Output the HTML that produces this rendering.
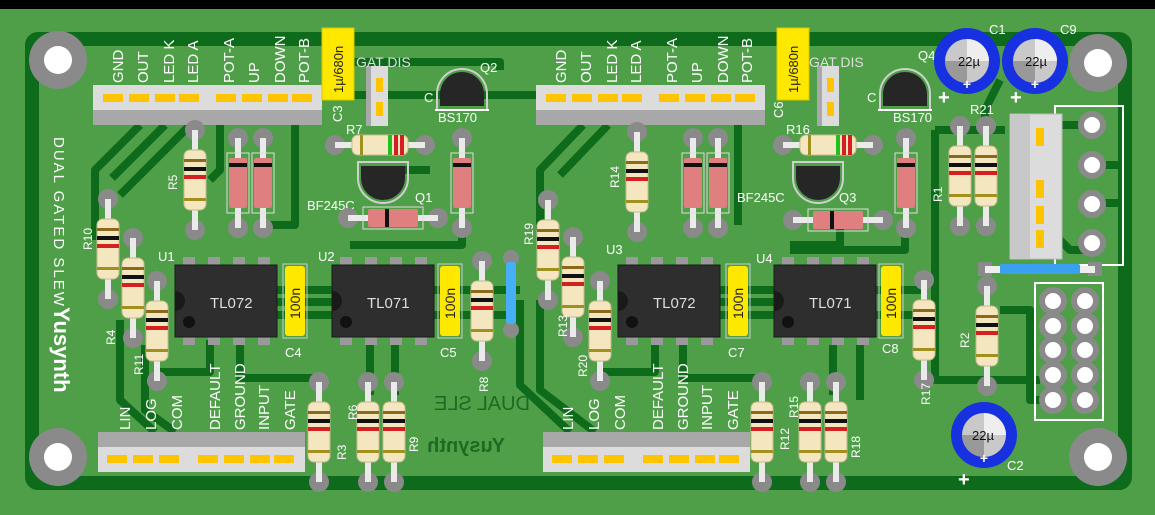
<!DOCTYPE html>
<html><head><meta charset="utf-8"><style>
html,body{margin:0;padding:0;background:#000;}
svg{display:block;}
text{font-family:"Liberation Sans",sans-serif;}
</style></head><body>
<svg width="1155" height="515" viewBox="0 0 1155 515" xmlns="http://www.w3.org/2000/svg">
<defs>
<g id="res">
 <circle cx="0" cy="-50" r="10" fill="#8a8a8a"/><circle cx="0" cy="50" r="10" fill="#8a8a8a"/>
 <rect x="-3" y="-50" width="6" height="100" fill="#eaeaea"/>
 <rect x="-11" y="-30" width="22" height="60" rx="6" fill="#f4e7c0" stroke="#c9b88e"/>
 <rect x="-11" y="-21" width="22" height="3" fill="#8a6a1a"/>
 <rect x="-11" y="-13" width="22" height="4" fill="#111"/>
 <rect x="-11" y="-5" width="22" height="4" fill="#d42020"/>
 <rect x="-11" y="18" width="22" height="3" fill="#a09020"/>
</g>
<g id="resh">
 <circle cx="-45" cy="0" r="10" fill="#8a8a8a"/><circle cx="45" cy="0" r="10" fill="#8a8a8a"/>
 <rect x="-45" y="-3" width="90" height="6" fill="#eaeaea"/>
 <rect x="-28" y="-10" width="56" height="20" rx="6" fill="#f4e7c0" stroke="#c9b88e"/>
 <rect x="-20" y="-10" width="3" height="20" fill="#a09020"/>
 <rect x="8" y="-10" width="4" height="20" fill="#20c020"/>
 <rect x="14" y="-10" width="4" height="20" fill="#d42020"/>
 <rect x="20" y="-10" width="4" height="20" fill="#d42020"/>
</g>
<g id="dv">
 <circle cx="0" cy="-45" r="10" fill="#8a8a8a"/><circle cx="0" cy="45" r="10" fill="#8a8a8a"/>
 <rect x="-3" y="-45" width="6" height="90" fill="#eaeaea"/>
 <rect x="-11" y="-30" width="22" height="60" fill="none" stroke="#ddd"/>
 <rect x="-9" y="-25" width="18" height="50" rx="2" fill="#e07f7f"/>
 <rect x="-9" y="-20" width="18" height="4" fill="#111"/>
</g>
<g id="dh">
 <circle cx="-45" cy="0" r="10" fill="#8a8a8a"/><circle cx="45" cy="0" r="10" fill="#8a8a8a"/>
 <rect x="-45" y="-3" width="90" height="6" fill="#eaeaea"/>
 <rect x="-30" y="-11" width="60" height="22" fill="none" stroke="#ddd"/>
 <rect x="-25" y="-9" width="50" height="18" rx="2" fill="#e07f7f"/>
 <rect x="-8" y="-9" width="4" height="18" fill="#111"/>
</g>
<g id="ic">
 <g fill="#9a9a9a">
 <rect x="8" y="-8" width="12" height="10"/><rect x="33" y="-8" width="12" height="10"/><rect x="58" y="-8" width="12" height="10"/><rect x="83" y="-8" width="12" height="10"/>
 <rect x="8" y="70" width="12" height="10"/><rect x="33" y="70" width="12" height="10"/><rect x="58" y="70" width="12" height="10"/><rect x="83" y="70" width="12" height="10"/>
 </g>
 <rect x="0" y="0" width="102" height="72" fill="#2e2e2e" stroke="#1a1a1a"/>
 <path d="M0 26 A10 10 0 0 1 0 46Z" fill="#1a1a1a"/>
 <circle cx="14" cy="57" r="6" fill="#111"/>
</g>
<g id="cap100">
 <rect x="0" y="0" width="24" height="74" fill="none" stroke="#ccc"/>
 <rect x="2" y="2" width="20" height="70" rx="3" fill="#ffe800"/>
 <text transform="translate(17,55) rotate(-90)" font-size="14" fill="#222">100n</text>
</g>
<g id="hdr8">
 <rect x="0" y="0" width="229" height="40" fill="#dcdcdc"/>
 <rect x="0" y="25" width="229" height="15" fill="#a8a8a8"/>
 <g fill="#ffc400"><rect x="10" y="9" width="20" height="8"/><rect x="36" y="9" width="20" height="8"/><rect x="62" y="9" width="20" height="8"/><rect x="86" y="9" width="20" height="8"/><rect x="123" y="9" width="20" height="8"/><rect x="149" y="9" width="20" height="8"/><rect x="175" y="9" width="20" height="8"/><rect x="199" y="9" width="20" height="8"/></g>
</g>
<g id="hdrb">
 <rect x="0" y="0" width="207" height="40" fill="#dcdcdc"/>
 <rect x="0" y="0" width="207" height="15" fill="#a8a8a8"/>
 <g fill="#ffc400"><rect x="9" y="23" width="20" height="8"/><rect x="35" y="23" width="20" height="8"/><rect x="61" y="23" width="20" height="8"/><rect x="100" y="23" width="20" height="8"/><rect x="126" y="23" width="20" height="8"/><rect x="152" y="23" width="20" height="8"/><rect x="176" y="23" width="20" height="8"/></g>
</g>
<g id="gat">
 <rect x="0" y="0" width="22" height="60" fill="#dcdcdc"/><rect x="0" y="0" width="5" height="60" fill="#a8a8a8"/>
 <rect x="10" y="12" width="7" height="14" fill="#ffc400"/><rect x="10" y="36" width="7" height="14" fill="#ffc400"/>
</g>
<g id="tdn">
 <path d="M-25 -2 A25 25 0 0 1 25 -2 V14 H-25Z" fill="none" stroke="#cfcfcf" stroke-width="2"/>
 <path d="M-22 -2 A22 22 0 0 1 22 -2 V10 H-22Z" fill="#262626"/>
 <path d="M-27 14 H27" stroke="#fff" stroke-width="2"/>
</g>
<g id="tq">
 <path d="M-25 2 A25 25 0 0 0 25 2 V-14 H-25Z" fill="none" stroke="#cfcfcf" stroke-width="2"/>
 <path d="M-22 2 A22 22 0 0 0 22 2 V-10 H-22Z" fill="#262626"/>
</g>
<g id="ec">
 <circle r="33" fill="#1730e0"/><circle r="22" fill="#c9c9c9"/><path d="M0 -22 A22 22 0 0 1 22 0 L0 0Z" fill="#eee"/><path d="M0 0 L-22 0 A22 22 0 0 0 0 22Z" fill="#999"/>
 <text x="0" y="28" font-size="14" fill="#fff" text-anchor="middle" font-weight="bold">+</text>
</g>
<g id="hole"><circle r="14" fill="#8a8a8a"/><circle r="8" fill="#fff"/></g>
<g id="mh"><circle r="29" fill="#8a8a8a"/><circle r="14" fill="#fff"/></g>
</defs>

<rect x="0" y="0" width="1155" height="515" fill="#4e9f48"/>
<rect x="0" y="0" width="1155" height="9" fill="#000"/>

<!-- traces -->
<g fill="none" stroke="#0f6b1c" stroke-width="8" stroke-linejoin="round">
 <rect x="32" y="39" width="1093" height="444" rx="6" stroke-width="14"/>
 <path d="M140 125 L95 170 V240"/><path d="M165 125 L112 178"/><path d="M190 125 L120 195"/>
 <path d="M220 125 V170 L210 180"/><path d="M295 125 V225 H265"/>
 <path d="M352 95 H540"/><path d="M352 62 H500 V70"/><path d="M400 170 H430"/>
 <path d="M120 320 V400 L155 432"/><path d="M145 345 V410 L175 432"/>
 <path d="M210 340 V372 H160"/><path d="M240 340 V378 H320"/>
 <path d="M277 290 H332 M277 302 H332 M277 315 H332"/>
 <path d="M432 290 H520 M432 315 H520"/><path d="M462 225 V245 H350"/>
 <path d="M395 345 V395 M370 345 V395"/>
 <path d="M583 125 L540 170 V230"/><path d="M608 125 L560 175"/><path d="M520 300 V385 L570 432"/>
 <path d="M540 300 V390 L595 432"/><path d="M655 340 V372 H600"/><path d="M683 340 V378 H760"/>
 <path d="M718 290 H775 M718 302 H775 M718 315 H775"/>
 <path d="M738 125 V225"/><path d="M840 225 V245 H790"/>
 <path d="M873 290 H925 M873 315 H925"/>
 <path d="M905 230 V250 H790"/><path d="M935 130 H1005 M935 130 V380 H1040"/>
 <path d="M1000 80 L985 110 V130"/><path d="M1060 125 H1092 M1060 240 L1070 250 H1092"/>
 <path d="M1092 165 H1125 M1092 203 H1125"/><path d="M1000 310 H1030 V400 H1053"/>
 <path d="M860 345 V400 M833 345 V395"/>
</g>

<!-- mounting holes -->
<use href="#mh" x="58" y="60"/><use href="#mh" x="58" y="457"/><use href="#mh" x="1098" y="63"/><use href="#mh" x="1098" y="457"/>

<!-- left texts -->
<text transform="translate(54,137) rotate(90)" font-size="15" fill="#fff" letter-spacing="2">DUAL  GATED  SLEW</text>
<text transform="translate(54,307) rotate(90)" font-size="22" fill="#fff" font-weight="bold" font-family="Liberation Serif,serif">Yusynth</text>

<!-- ======== LEFT HALF ======== -->
<g>
 <use href="#hdr8" x="93" y="85"/>
 <g font-size="15" fill="#fff">
  <text transform="translate(123,83) rotate(-90)">GND</text>
  <text transform="translate(148,83) rotate(-90)">OUT</text>
  <text transform="translate(174,83) rotate(-90)">LED K</text>
  <text transform="translate(198,83) rotate(-90)">LED A</text>
  <text transform="translate(234,83) rotate(-90)">POT-A</text>
  <text transform="translate(259,83) rotate(-90)">UP</text>
  <text transform="translate(285,83) rotate(-90)">DOWN</text>
  <text transform="translate(309,83) rotate(-90)">POT-B</text>
 </g>
 <rect x="322" y="28" width="32" height="72" fill="#ffe800" stroke="#d8c800"/>
 <text transform="translate(343,93) rotate(-90)" font-size="13" fill="#222">1µ/680n</text>
 <text transform="translate(342,122) rotate(-90)" font-size="13" fill="#fff">C3</text>
 <use href="#gat" x="366" y="66"/>
 <text x="356" y="67" font-size="14" fill="#ddd">GAT  DIS</text>
 <use href="#tdn" x="462" y="96"/>
 <text x="480" y="72" font-size="13" fill="#fff">Q2</text>
 <text x="438" y="122" font-size="13" fill="#fff">BS170</text>
 <text x="424" y="102" font-size="13" fill="#fff">C</text>
 <use href="#resh" x="380" y="145"/>
 <text x="346" y="134" font-size="13" fill="#fff">R7</text>
 <use href="#tq" x="383" y="176"/>
 <text x="415" y="202" font-size="13" fill="#fff">Q1</text>
 <text x="307" y="210" font-size="13" fill="#fff">BF245C</text>
 <use href="#dh" x="393" y="218"/>
 <use href="#dv" x="462" y="183"/>
 <use href="#res" x="195" y="180"/>
 <text transform="translate(177,190) rotate(-90)" font-size="12" fill="#fff">R5</text>
 <use href="#dv" x="238" y="183"/><use href="#dv" x="263" y="183"/>
 <use href="#res" x="108" y="249"/>
 <text transform="translate(92,250) rotate(-90)" font-size="12" fill="#fff">R10</text>
 <use href="#res" x="133" y="288"/>
 <text transform="translate(115,345) rotate(-90)" font-size="12" fill="#fff">R4</text>
 <use href="#res" x="157" y="331"/>
 <text transform="translate(143,375) rotate(-90)" font-size="12" fill="#fff">R11</text>
 <use href="#ic" x="175" y="265"/>
 <text x="210" y="308" font-size="15" fill="#ddd">TL072</text>
 <text x="158" y="261" font-size="13" fill="#fff">U1</text>
 <use href="#cap100" x="283" y="264"/>
 <text x="285" y="357" font-size="13" fill="#fff">C4</text>
 <use href="#ic" x="332" y="265"/>
 <text x="367" y="308" font-size="15" fill="#ddd">TL071</text>
 <text x="318" y="261" font-size="13" fill="#fff">U2</text>
 <use href="#cap100" x="438" y="264"/>
 <text x="440" y="357" font-size="13" fill="#fff">C5</text>
 <use href="#res" x="482" y="311"/>
 <text transform="translate(488,392) rotate(-90)" font-size="12" fill="#fff">R8</text>
 <use href="#hdrb" x="98" y="432"/>
 <g font-size="15" fill="#fff">
  <text transform="translate(130,430) rotate(-90)">LIN</text>
  <text transform="translate(156,430) rotate(-90)">LOG</text>
  <text transform="translate(182,430) rotate(-90)">COM</text>
  <text transform="translate(220,430) rotate(-90)">DEFAULT</text>
  <text transform="translate(245,430) rotate(-90)">GROUND</text>
  <text transform="translate(269,430) rotate(-90)">INPUT</text>
  <text transform="translate(295,430) rotate(-90)">GATE</text>
 </g>
 <use href="#res" x="319" y="432"/>
</g>
<text transform="translate(346,460) rotate(-90)" font-size="12" fill="#fff">R3</text>
<use href="#res" x="368" y="432"/><use href="#res" x="394" y="432"/>
<text transform="translate(357,420) rotate(-90)" font-size="12" fill="#fff">R6</text>
<text transform="translate(418,452) rotate(-90)" font-size="12" fill="#fff">R9</text>
<circle cx="511" cy="258" r="8" fill="#8a8a8a"/><circle cx="511" cy="330" r="8" fill="#8a8a8a"/>
<rect x="506" y="262" width="10" height="62" rx="3" fill="#48aef5"/>
<text transform="translate(530,410) scale(-1,1)" font-size="20" fill="#1f6a22">DUAL SLE</text>
<text transform="translate(505,452) scale(-1,1)" font-size="20" fill="#1f6a22" font-weight="bold" font-family="Liberation Serif,serif">Yusynth</text>

<!-- ======== RIGHT HALF ======== -->
<g transform="translate(443,0)">
 <use href="#hdr8" x="93" y="85"/>
 <g font-size="15" fill="#fff">
  <text transform="translate(123,83) rotate(-90)">GND</text>
  <text transform="translate(148,83) rotate(-90)">OUT</text>
  <text transform="translate(174,83) rotate(-90)">LED K</text>
  <text transform="translate(198,83) rotate(-90)">LED A</text>
  <text transform="translate(234,83) rotate(-90)">POT-A</text>
  <text transform="translate(259,83) rotate(-90)">UP</text>
  <text transform="translate(285,83) rotate(-90)">DOWN</text>
  <text transform="translate(309,83) rotate(-90)">POT-B</text>
 </g>
 <rect x="334" y="28" width="32" height="72" fill="#ffe800" stroke="#d8c800"/>
 <text transform="translate(355,93) rotate(-90)" font-size="13" fill="#222">1µ/680n</text>
 <text transform="translate(340,118) rotate(-90)" font-size="13" fill="#fff">C6</text>
 <use href="#gat" x="374" y="66"/>
 <text x="366" y="67" font-size="14" fill="#ddd">GAT  DIS</text>
 <use href="#tdn" x="462" y="96"/>
 <text x="475" y="60" font-size="13" fill="#fff">Q4</text>
 <text x="450" y="122" font-size="13" fill="#fff">BS170</text>
 <text x="424" y="102" font-size="13" fill="#fff">C</text>
 <use href="#resh" x="385" y="145"/>
 <text x="343" y="134" font-size="13" fill="#fff">R16</text>
 <use href="#tq" x="375" y="176"/>
 <text x="396" y="202" font-size="13" fill="#fff">Q3</text>
 <text x="294" y="202" font-size="13" fill="#fff">BF245C</text>
 <use href="#dh" x="395" y="220"/>
 <use href="#dv" x="463" y="183"/>
 <use href="#res" x="194" y="182"/>
 <text transform="translate(176,188) rotate(-90)" font-size="12" fill="#fff">R14</text>
 <use href="#dv" x="250" y="183"/><use href="#dv" x="275" y="183"/>
 <use href="#res" x="105" y="250"/>
 <text transform="translate(90,245) rotate(-90)" font-size="12" fill="#fff">R19</text>
 <use href="#res" x="130" y="287"/>
 <text transform="translate(124,337) rotate(-90)" font-size="12" fill="#fff">R13</text>
 <use href="#res" x="157" y="331"/>
 <text transform="translate(144,377) rotate(-90)" font-size="12" fill="#fff">R20</text>
 <use href="#ic" x="175" y="265"/>
 <text x="210" y="308" font-size="15" fill="#ddd">TL072</text>
 <text x="163" y="254" font-size="13" fill="#fff">U3</text>
 <use href="#cap100" x="283" y="264"/>
 <text x="285" y="357" font-size="13" fill="#fff">C7</text>
 <use href="#ic" x="331" y="265"/>
 <text x="366" y="308" font-size="15" fill="#ddd">TL071</text>
 <text x="313" y="263" font-size="13" fill="#fff">U4</text>
 <use href="#cap100" x="436" y="264"/>
 <text x="439" y="353" font-size="13" fill="#fff">C8</text>
 <use href="#res" x="481" y="330"/>
 <text transform="translate(487,405) rotate(-90)" font-size="12" fill="#fff">R17</text>
 <use href="#hdrb" x="100" y="432"/>
 <g font-size="15" fill="#fff">
  <text transform="translate(130,430) rotate(-90)">LIN</text>
  <text transform="translate(156,430) rotate(-90)">LOG</text>
  <text transform="translate(182,430) rotate(-90)">COM</text>
  <text transform="translate(220,430) rotate(-90)">DEFAULT</text>
  <text transform="translate(245,430) rotate(-90)">GROUND</text>
  <text transform="translate(269,430) rotate(-90)">INPUT</text>
  <text transform="translate(295,430) rotate(-90)">GATE</text>
 </g>
 <use href="#res" x="319" y="432"/>
 <text transform="translate(346,450) rotate(-90)" font-size="12" fill="#fff">R12</text>
 <use href="#res" x="367" y="432"/><use href="#res" x="393" y="432"/>
 <text transform="translate(355,418) rotate(-90)" font-size="12" fill="#fff">R15</text>
 <text transform="translate(417,458) rotate(-90)" font-size="12" fill="#fff">R18</text>
</g>

<!-- right side -->
<use href="#ec" x="967" y="61"/><text x="958" y="66" font-size="13" fill="#111">22µ</text>
<use href="#ec" x="1035" y="61"/><text x="1025" y="66" font-size="13" fill="#111">22µ</text>
<text x="989" y="34" font-size="13" fill="#fff">C1</text><text x="1060" y="34" font-size="13" fill="#fff">C9</text>
<text x="938" y="104" font-size="20" fill="#fff" font-weight="bold">+</text><text x="1010" y="104" font-size="20" fill="#fff" font-weight="bold">+</text>
<use href="#ec" x="984" y="435"/><text x="972" y="440" font-size="13" fill="#111">22µ</text>
<text x="1007" y="470" font-size="13" fill="#fff">C2</text><text x="958" y="486" font-size="20" fill="#fff" font-weight="bold">+</text>
<use href="#res" x="960" y="176"/><use href="#res" x="986" y="176"/>
<text x="970" y="114" font-size="13" fill="#fff">R21</text>
<text transform="translate(942,202) rotate(-90)" font-size="12" fill="#fff">R1</text>
<use href="#res" x="987" y="336"/>
<text transform="translate(969,348) rotate(-90)" font-size="12" fill="#fff">R2</text>
<rect x="1055" y="106" width="68" height="159" fill="none" stroke="#fff" stroke-width="2"/>
<rect x="1010" y="114" width="52" height="145" fill="#dcdcdc" stroke="#bbb"/>
<rect x="1010" y="114" width="20" height="145" fill="#c8c8c8"/>
<g fill="#ffc400"><rect x="1036" y="128" width="8" height="18"/><rect x="1036" y="180" width="8" height="18"/><rect x="1036" y="206" width="8" height="18"/><rect x="1036" y="230" width="8" height="18"/></g>
<use href="#hole" x="1092" y="125"/><use href="#hole" x="1092" y="165"/><use href="#hole" x="1092" y="204"/><use href="#hole" x="1092" y="243"/>
<rect x="978" y="262" width="14" height="14" fill="#8a8a8a"/><rect x="1088" y="262" width="14" height="14" fill="#8a8a8a"/>
<rect x="985" y="266" width="110" height="7" fill="#eee"/>
<rect x="1000" y="264" width="80" height="10" rx="2" fill="#3aa0f0"/>
<rect x="1035" y="283" width="68" height="137" fill="none" stroke="#fff" stroke-width="2"/>
<g>
 <use href="#hole" x="1053" y="301"/><use href="#hole" x="1085" y="301"/>
 <use href="#hole" x="1053" y="326"/><use href="#hole" x="1085" y="326"/>
 <use href="#hole" x="1053" y="350"/><use href="#hole" x="1085" y="350"/>
 <use href="#hole" x="1053" y="375"/><use href="#hole" x="1085" y="375"/>
 <use href="#hole" x="1053" y="400"/><use href="#hole" x="1085" y="400"/>
</g>
</svg>
</body></html>
